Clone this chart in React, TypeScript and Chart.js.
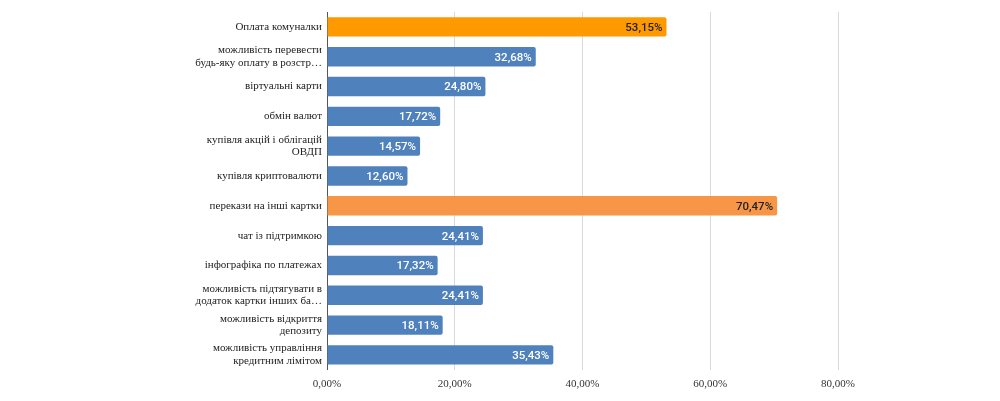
import React, { useEffect, useRef } from "react";
import { Chart, registerables } from "chart.js";
Chart.register(...registerables);

const categories: (string | string[])[] = [
  "Оплата комуналки",
  ["можливість перевести", "будь-яку оплату в розстр…"],
  "віртуальні карти",
  "обмін валют",
  ["купівля акцій і облігацій", "ОВДП"],
  "купівля криптовалюти",
  "перекази на інші картки",
  "чат із підтримкою",
  "інфографіка по платежах",
  ["можливість підтягувати в", "додаток картки інших ба…"],
  ["можливість відкриття", "депозиту"],
  ["можливість управління", "кредитним лімітом"],
];
const values = [53.15, 32.68, 24.8, 17.72, 14.57, 12.6, 70.47, 24.41, 17.32, 24.41, 18.11, 35.43];
const barColors = [
  "#FF9900", "#4F81BD", "#4F81BD", "#4F81BD", "#4F81BD", "#4F81BD",
  "#F79646", "#4F81BD", "#4F81BD", "#4F81BD", "#4F81BD", "#4F81BD",
];
const labelColors = [
  "#222222", "#ffffff", "#ffffff", "#ffffff", "#ffffff", "#ffffff",
  "#222222", "#ffffff", "#ffffff", "#ffffff", "#ffffff", "#ffffff",
];
const xTicks = [0, 20, 40, 60, 80];

const fmt = (v: number) => v.toFixed(2).replace(".", ",") + "%";

const dataLabels = {
  id: "dataLabels",
  afterDatasetsDraw(chart: any) {
    const ctx = chart.ctx;
    const meta = chart.getDatasetMeta(0);
    ctx.save();
    ctx.font = "500 11.5px Roboto, 'Noto Sans', sans-serif";
    ctx.textAlign = "right";
    ctx.textBaseline = "middle";
    meta.data.forEach((bar: any, i: number) => {
      ctx.fillStyle = labelColors[i];
      ctx.fillText(fmt(values[i]), bar.x - 4, bar.y + 1);
    });
    ctx.restore();
  },
};

export default function App() {
  const ref = useRef<HTMLCanvasElement>(null);
  useEffect(() => {
    const chart = new Chart(ref.current!, {
      type: "bar",
      data: {
        labels: categories,
        datasets: [
          {
            data: values,
            backgroundColor: barColors,
            borderRadius: 2,
            borderSkipped: "start",
            barPercentage: 0.65,
            categoryPercentage: 1,
          },
        ],
      },
      options: {
        indexAxis: "y",
        animation: false,
        responsive: false,
        layout: { padding: { top: 12, right: 162, bottom: 2, left: 0 } },
        plugins: { legend: { display: false }, tooltip: { enabled: false } },
        scales: {
          x: {
            min: 0,
            max: 80,
            afterBuildTicks: (s: any) => {
              s.ticks = xTicks.map((v) => ({ value: v }));
            },
            afterFit: (s: any) => {
              s.paddingLeft = 0;
              s.paddingRight = 0;
            },
            grid: { color: "#d9d9d9", tickLength: 0, drawTicks: false },
            border: { display: false },
            ticks: {
              padding: 8,
              color: "#333",
              font: { family: "'Liberation Serif', 'DejaVu Serif', serif", size: 11 },
              callback: (v: any) => fmt(Number(v)),
            },
          },
          y: {
            grid: { display: false, drawTicks: false },
            border: { display: true, color: "#555", width: 1 },
            afterFit: (s: any) => {
              s.width = 327;
              s.paddingTop = 0;
              s.paddingBottom = 0;
            },
            ticks: {
              autoSkip: false,
              padding: 5,
              color: "#222",
              font: { family: "'Liberation Serif', 'DejaVu Serif', serif", size: 11, lineHeight: 1.15 },
            },
          },
        },
      },
      plugins: [dataLabels],
    });
    return () => chart.destroy();
  }, []);
  return (
    <div style={{ position: "absolute", left: 0, top: 0, width: 1000, height: 401, background: "#fff" }}>
      <canvas ref={ref} width={1000} height={401} />
    </div>
  );
}
